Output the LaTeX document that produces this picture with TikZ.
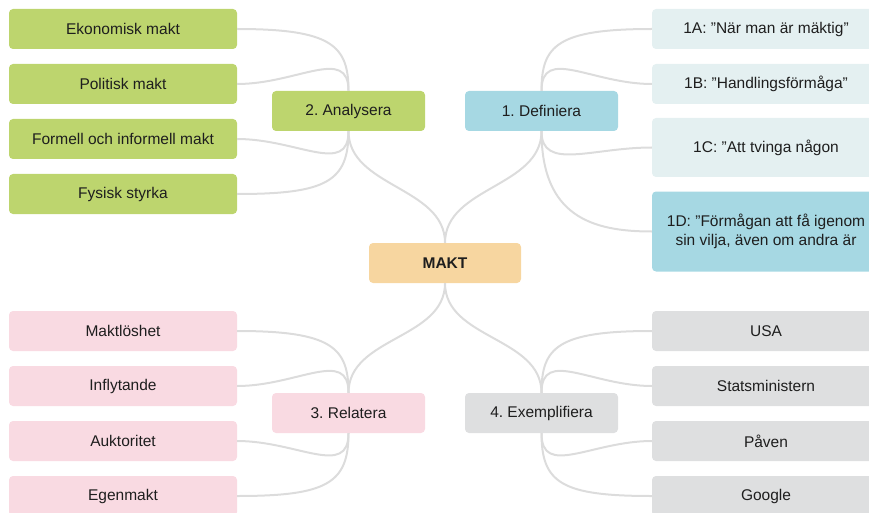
\documentclass[tikz,border=0pt]{standalone}
\usepackage{fontspec}
\setmainfont{Liberation Sans}
\frenchspacing
\definecolor{cgreen}{HTML}{BDD56E}
\definecolor{cteal}{HTML}{A6D8E3}
\definecolor{clight}{HTML}{E4F0F1}
\definecolor{corange}{HTML}{F7D6A0}
\definecolor{cpink}{HTML}{F9DAE2}
\definecolor{cgrey}{HTML}{DEDFE0}
\definecolor{cline}{HTML}{DCDCDC}
\definecolor{ctext}{HTML}{1E1E1E}
\begin{document}
\begin{tikzpicture}[x=1pt,y=-1pt,
  box/.style={rounded corners=4pt, inner sep=0pt, text=ctext, font=\fontsize{15.5}{19}\selectfont, align=center},
  leaf/.style={box, minimum width=228pt, minimum height=40pt},
  mid/.style={box, minimum width=153pt, minimum height=40pt},
  conn/.style={draw=cline, line width=2pt}]
\useasboundingbox (0,0) rectangle (869,513);
\clip (0,0) rectangle (869,513);
% centre
\node[mid, fill=corange, minimum width=152pt, font=\fontsize{15.5}{19}\selectfont\bfseries] (makt) at (445,263) {MAKT};
% mid nodes
\node[mid, fill=cgreen] (ana) at (348.5,111) {2. Analysera};
\node[mid, fill=cteal] (def) at (541.5,111) {1. Definiera};
\node[mid, fill=cpink] (rel) at (348.5,413) {3. Relatera};
\node[mid, fill=cgrey] (exe) at (541.5,413) {4. Exemplifiera};
% left top
\node[leaf, fill=cgreen] (eko) at (123,29) {Ekonomisk makt};
\node[leaf, fill=cgreen] (pol) at (123,84) {Politisk makt};
\node[leaf, fill=cgreen] (for) at (123,139) {Formell och informell makt};
\node[leaf, fill=cgreen] (fys) at (123,194) {Fysisk styrka};
% right top
\node[leaf, fill=clight] (a1) at (766,29) {1A: ”När man är mäktig”};
\node[leaf, fill=clight] (b1) at (766,84) {1B: ”Handlingsförmåga”};
\node[leaf, fill=clight, minimum height=59pt] (c1) at (766,147.5) {1C: ”Att tvinga någon};
\node[leaf, fill=cteal, minimum height=80pt] (d1) at (766,231.5) {1D: ”Förmågan att få igenom\\sin vilja, även om andra är};
% left bottom
\node[leaf, fill=cpink] (mlo) at (123,331) {Maktlöshet};
\node[leaf, fill=cpink] (inf) at (123,386) {Inflytande};
\node[leaf, fill=cpink] (auk) at (123,441) {Auktoritet};
\node[leaf, fill=cpink] (ege) at (123,496) {Egenmakt};
% right bottom
\node[leaf, fill=cgrey] (usa) at (766,331) {USA};
\node[leaf, fill=cgrey] (sta) at (766,386) {Statsministern};
\node[leaf, fill=cgrey] (pav) at (766,441) {Påven};
\node[leaf, fill=cgrey] (goo) at (766,496) {Google};
% connectors
\path[conn] (makt.north) .. controls +(0,-56) and +(0,56) .. (ana.south);
\path[conn] (makt.north) .. controls +(0,-56) and +(0,56) .. (def.south);
\path[conn] (makt.south) .. controls +(0,56) and +(0,-56) .. (rel.north);
\path[conn] (makt.south) .. controls +(0,56) and +(0,-56) .. (exe.north);
% analysera
\path[conn] (ana.north) .. controls +(0,-45) and +(95,0) .. (eko.east);
\path[conn] (ana.north) .. controls +(0,-45) and +(60,0) .. (pol.east);
\path[conn] (ana.south) .. controls +(0,45) and +(60,0) .. (for.east);
\path[conn] (ana.south) .. controls +(0,50) and +(90,0) .. (fys.east);
% definiera
\path[conn] (def.north) .. controls +(0,-45) and +(-95,0) .. (a1.west);
\path[conn] (def.north) .. controls +(0,-45) and +(-60,0) .. (b1.west);
\path[conn] (def.south) .. controls +(0,40) and +(-60,0) .. (c1.west);
\path[conn] (def.south) .. controls +(0,85) and +(-60,0) .. (d1.west);
% relatera
\path[conn] (rel.north) .. controls +(0,-45) and +(95,0) .. (mlo.east);
\path[conn] (rel.north) .. controls +(0,-45) and +(60,0) .. (inf.east);
\path[conn] (rel.south) .. controls +(0,45) and +(60,0) .. (auk.east);
\path[conn] (rel.south) .. controls +(0,50) and +(90,0) .. (ege.east);
% exemplifiera
\path[conn] (exe.north) .. controls +(0,-45) and +(-95,0) .. (usa.west);
\path[conn] (exe.north) .. controls +(0,-45) and +(-60,0) .. (sta.west);
\path[conn] (exe.south) .. controls +(0,45) and +(-60,0) .. (pav.west);
\path[conn] (exe.south) .. controls +(0,50) and +(-90,0) .. (goo.west);
\end{tikzpicture}
\end{document}
